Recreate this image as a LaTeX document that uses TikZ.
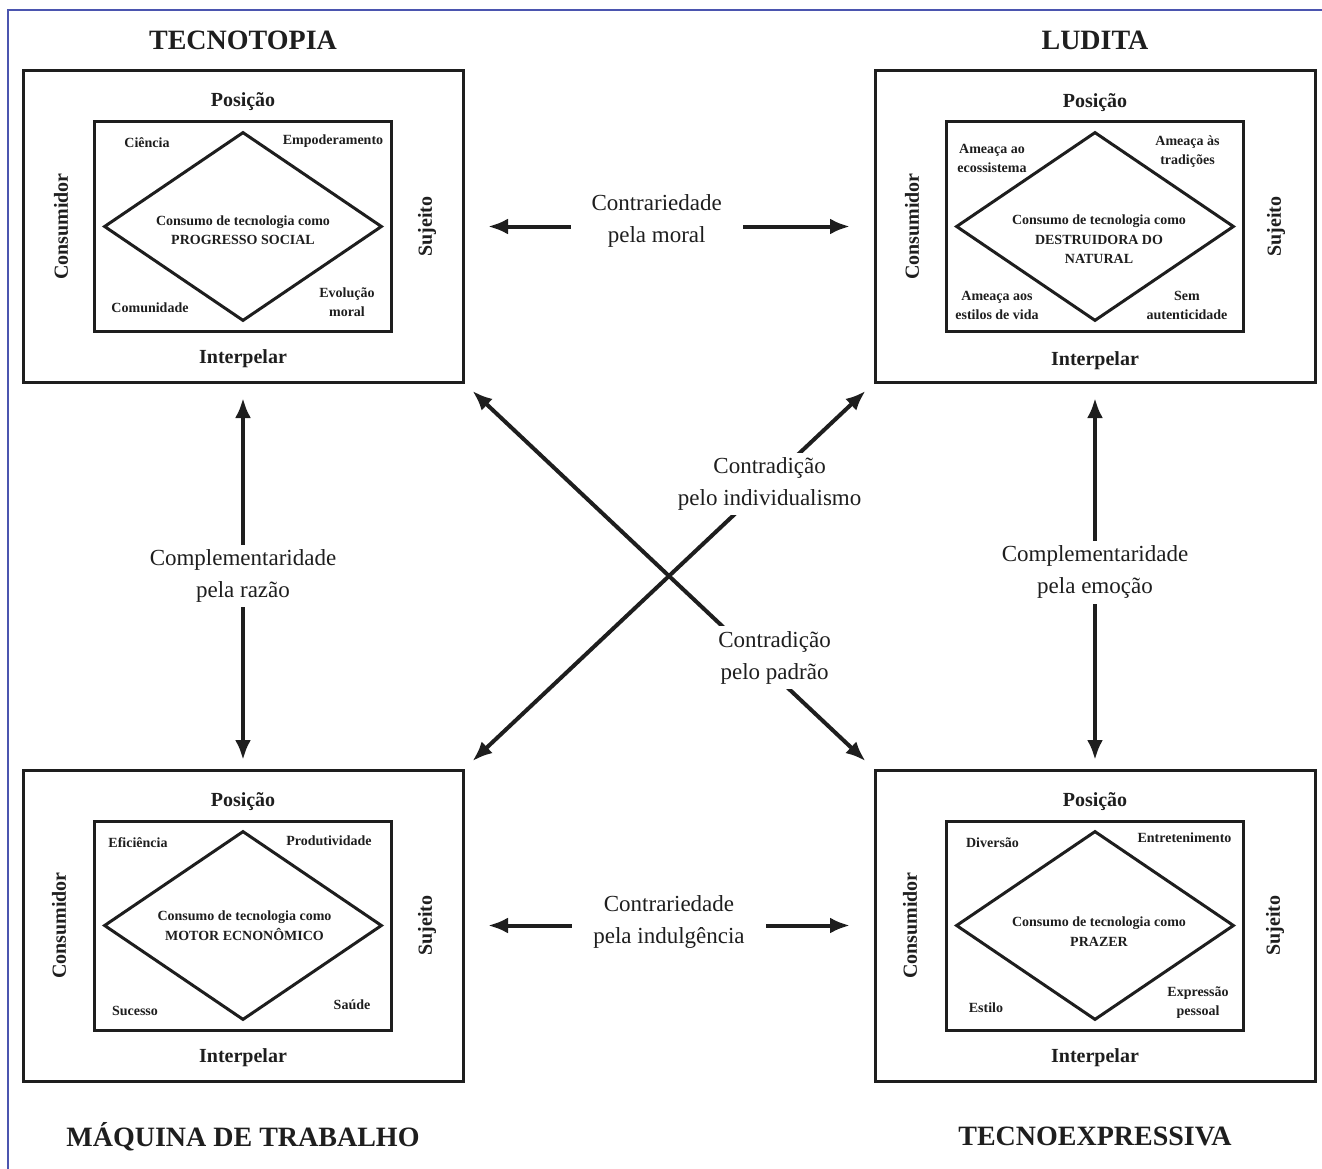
\documentclass[tikz,border=0pt]{standalone}
\usepackage{fontspec}
\setmainfont{Liberation Serif}
\usetikzlibrary{positioning, arrows.meta, shapes.geometric}
\definecolor{frameblue}{RGB}{75,85,175}
\definecolor{ink}{RGB}{30,30,30}

\begin{document}
\begin{tikzpicture}[
        x=1pt, y=-1pt,
        node distance=388pt and 412pt,
        every node/.style={text=ink},
        box/.style={draw=ink, line width=3pt, minimum width=440pt, minimum height=311pt, inner sep=0pt, outer sep=0pt},
        innerbox/.style={draw=ink, line width=3pt, minimum width=297pt, minimum height=209pt, inner sep=0pt},
        rhombus/.style={draw=ink, diamond, line width=3pt, aspect=1.47, minimum width=278pt, minimum height=189pt, inner sep=0pt},
        centre/.style={align=center, font=\fontsize{14}{19.5}\selectfont\bfseries},
        title/.style={font=\fontsize{28}{34}\selectfont\bfseries},
        side/.style={font=\fontsize{20}{24}\selectfont\bfseries},
        corner/.style={align=center, font=\fontsize{14}{19}\selectfont\bfseries},
        midlabel/.style={fill=white, align=center, inner xsep=21pt, inner ysep=5pt, font=\fontsize{23}{32}\selectfont},
        arrow/.style={draw=ink, line width=4pt, {Latex[length=20pt,width=16pt]}-{Latex[length=20pt,width=16pt]}}
    ]

    \useasboundingbox (0,0) rectangle (1322,1169);
    \draw[frameblue, line width=1.8pt] (8,1169) -- (8,10) -- (1322,10);

    % Quadranten
    \node (tl) [box] at (243,226.5) {};
    \node (tr) [box, right=of tl] {};
    \node (bl) [box, below=of tl] {};
    \node (br) [box, right=of bl] {};

    % Titel
    \node (tltitle) [title, above=21pt of tl.north, anchor=base] {TECNOTOPIA};
    \node (trtitle) [title, above=21pt of tr.north, anchor=base] {LUDITA};
    \node (bltitle) [title, below=65pt of bl.south, anchor=base] {MÁQUINA DE TRABALHO};
    \node (brtitle) [title, below=64pt of br.south, anchor=base] {TECNOEXPRESSIVA};

    % Tecnotopia
    \node (tlpos) [side, below=36pt of tl.north, anchor=base] {Posição};
    \node (tlint) [side, above=19pt of tl.south, anchor=base] {Interpelar};
    \node (tlcon) [side, rotate=90] at ([xshift=38pt]tl.west) {Consumidor};
    \node (tlsuj) [side, rotate=90] at ([xshift=-36pt]tl.east) {Sujeito};
    \node (tlin) [innerbox] at (tl.center) {};
    \node (tlrh) [rhombus] at (tl.center) {};
    \node (tltxt) [centre] at ([yshift=-3.5pt]tl.center) {Consumo de tecnologia como\\PROGRESSO SOCIAL};
    \node (tla) [corner] at ([shift={(-96,-83.5)}]tl.center) {Ciência};
    \node (tlb) [corner] at ([shift={(90,-85.5)}]tl.center) {Empoderamento};
    \node (tlc) [corner] at ([shift={(-93,81.5)}]tl.center) {Comunidade};
    \node (tld) [corner] at ([shift={(104,76)}]tl.center) {Evolução\\moral};

    % Ludita
    \node (trpos) [side, below=37pt of tr.north, anchor=base] {Posição};
    \node (trint) [side, above=17pt of tr.south, anchor=base] {Interpelar};
    \node (trcon) [side, rotate=90] at ([xshift=37pt]tr.west) {Consumidor};
    \node (trsuj) [side, rotate=90] at ([xshift=-39pt]tr.east) {Sujeito};
    \node (trin) [innerbox] at (tr.center) {};
    \node (trrh) [rhombus] at (tr.center) {};
    \node (trtxt) [centre] at ([shift={(4,13)}]tr.center) {Consumo de tecnologia como\\DESTRUIDORA DO\\NATURAL};
    \node (tra) [corner] at ([shift={(-103,-68.5)}]tr.center) {Ameaça ao\\ecossistema};
    \node (trb) [corner] at ([shift={(92.5,-74.5)}]tr.center) {Ameaça às\\tradições};
    \node (trc) [corner] at ([shift={(-98,79)}]tr.center) {Ameaça aos\\estilos de vida};
    \node (trd) [corner] at ([shift={(92,79)}]tr.center) {Sem\\autenticidade};

    % Maquina de trabalho
    \node (blpos) [side, below=36pt of bl.north, anchor=base] {Posição};
    \node (blint) [side, above=19pt of bl.south, anchor=base] {Interpelar};
    \node (blcon) [side, rotate=90] at ([xshift=36pt]bl.west) {Consumidor};
    \node (blsuj) [side, rotate=90] at ([xshift=-36pt]bl.east) {Sujeito};
    \node (blin) [innerbox] at (bl.center) {};
    \node (blrh) [rhombus] at (bl.center) {};
    \node (bltxt) [centre] at ([shift={(1.5,0)}]bl.center) {Consumo de tecnologia como\\MOTOR ECNONÔMICO};
    \node (bla) [corner] at ([shift={(-105,-82.5)}]bl.center) {Eficiência};
    \node (blb) [corner] at ([shift={(86,-84.5)}]bl.center) {Produtividade};
    \node (blc) [corner] at ([shift={(-108,85.5)}]bl.center) {Sucesso};
    \node (bld) [corner] at ([shift={(109,79.5)}]bl.center) {Saúde};

    % Tecnoexpressiva
    \node (brpos) [side, below=36pt of br.north, anchor=base] {Posição};
    \node (brint) [side, above=19pt of br.south, anchor=base] {Interpelar};
    \node (brcon) [side, rotate=90] at ([xshift=35pt]br.west) {Consumidor};
    \node (brsuj) [side, rotate=90] at ([xshift=-40pt]br.east) {Sujeito};
    \node (brin) [innerbox] at (br.center) {};
    \node (brrh) [rhombus] at (br.center) {};
    \node (brtxt) [centre] at ([shift={(4,6)}]br.center) {Consumo de tecnologia como\\PRAZER};
    \node (bra) [corner] at ([shift={(-102.5,-82.5)}]br.center) {Diversão};
    \node (brb) [corner] at ([shift={(89.5,-87.5)}]br.center) {Entretenimento};
    \node (brc) [corner] at ([shift={(-109,82.5)}]br.center) {Estilo};
    \node (brd) [corner] at ([shift={(103,77.5)}]br.center) {Expressão\\pessoal};

    % Verbindungen
    \draw[arrow, shorten <=25pt, shorten >=25pt] (tl) -- node[midlabel, pos=0.47, yshift=6pt] {Contrariedade\\pela moral} (tr);
    \draw[arrow, shorten <=25pt, shorten >=25pt] (bl) -- node[midlabel, pos=0.5, yshift=4pt] {Contrariedade\\pela indulgência} (br);
    \draw[arrow, shorten <=16pt, shorten >=10pt] (tl) -- node[midlabel] {Complementaridade\\pela razão} (bl);
    \draw[arrow, shorten <=16pt, shorten >=10pt] (tr) -- node[midlabel, pos=0.49] {Complementaridade\\pela emoção} (br);
    \draw[arrow, shorten <=13pt, shorten >=13pt] (tl.south east) -- node[midlabel, pos=0.71, xshift=19pt] {Contradição\\pelo padrão} (br.north west);
    \draw[arrow, shorten <=13pt, shorten >=13pt] (bl.north east) -- node[midlabel, pos=0.737, xshift=3pt] {Contradição\\pelo individualismo} (tr.south west);

\end{tikzpicture}
\end{document}
